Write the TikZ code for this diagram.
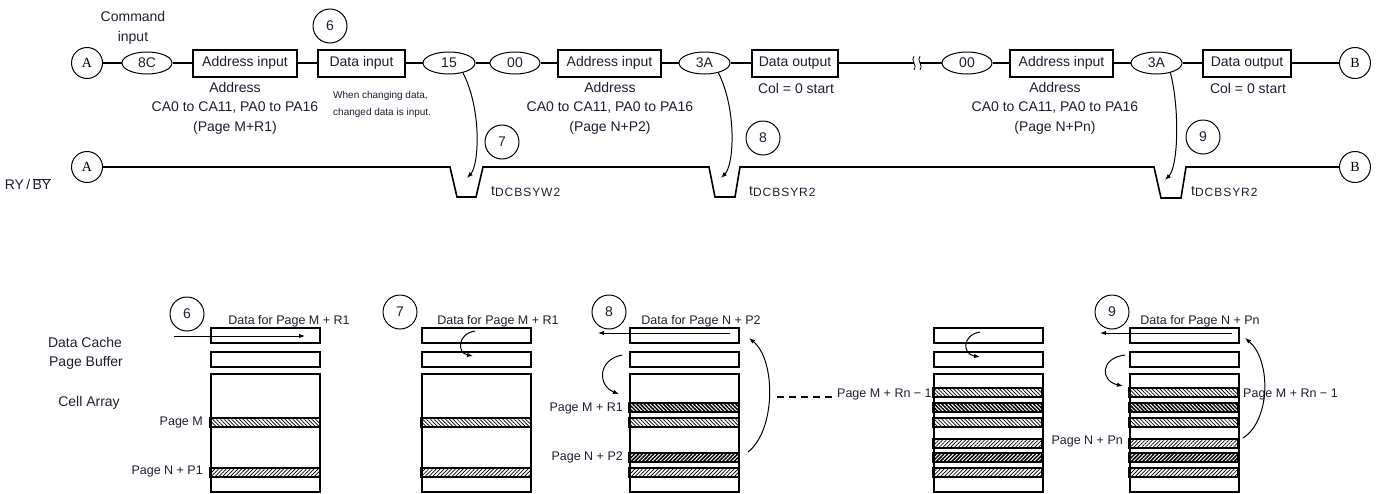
\documentclass[tikz,border=0pt]{standalone}
\usepackage{fontspec}
\setmainfont{Liberation Sans}
\newfontfamily\portfont{Liberation Serif}
\usetikzlibrary{arrows.meta,patterns.meta,shapes.geometric}
\definecolor{ink}{RGB}{30,30,50}
\newcommand{\toplbl}{\fontsize{14}{19.5}\selectfont}
\newcommand{\botlbl}{\fontsize{12.5}{14}\selectfont}
\newcommand{\notelbl}{\fontsize{10}{17}\selectfont}
\newcommand{\tsub}[1]{t\raisebox{-1.5pt}{\fontsize{12}{13}\selectfont\addfontfeature{LetterSpace=8}#1}}

\begin{document}
\begin{tikzpicture}[x=1pt, y=-1pt,
  cmd/.style={ellipse, draw, line width=1pt, minimum width=50pt,
              minimum height=22pt, inner sep=0pt, font=\toplbl, text=ink},
  blk/.style={rectangle, draw, line width=2pt, minimum height=27pt,
              inner sep=0pt, font=\toplbl, text=ink},
  tag/.style={circle, draw, line width=1pt, minimum size=34pt,
              inner sep=0pt, font=\toplbl, text=ink},
  port/.style={circle, draw, line width=1pt, minimum size=31pt,
               inner sep=0pt, font=\portfont\toplbl},
  txt/.style={font=\toplbl, text=ink, align=center, inner sep=0pt},
  pg/.style={font=\botlbl, text=ink, inner sep=0pt},
  wire/.style={line width=1.6pt},
  lnk/.style={line width=1pt, -{Latex[length=6pt,width=4.5pt]}},
  reg/.style={draw, line width=2pt, inner sep=0pt, anchor=north west},
  band/.style={draw, line width=1.4pt},
  bsl/.style={pattern={Lines[angle=-45,distance=2.7pt,line width=0.7pt]}},
  bsd/.style={pattern={Lines[angle=-45,distance=2.7pt,line width=1.5pt]}},
  fsl/.style={pattern={Lines[angle=45,distance=2.7pt,line width=0.7pt]}},
  fsd/.style={pattern={Lines[angle=45,distance=2.7pt,line width=1.5pt]}}
]
  \useasboundingbox (0,0) rectangle (1384,493);

  % Command sequence
  \node[port] (wa) at (87,63) {A};
  \node[cmd] (c8C) at (147,63) {8C};
  \node[blk, minimum width=104pt] (addr1) at (245,63) {Address input};
  \node[blk, minimum width=87pt] (din) at (361.5,63) {Data input};
  \node[cmd, minimum width=52pt] (c15) at (449,63) {15};
  \node[cmd] (c00a) at (515,63) {00};
  \node[blk, minimum width=103pt] (addr2) at (609.5,63) {Address input};
  \node[cmd, minimum width=51pt] (c3Aa) at (704.5,63) {3A};
  \node[blk, minimum width=86pt] (dout1) at (795,63) {Data output};
  \node[cmd] (c00b) at (967,63) {00};
  \node[blk, minimum width=103pt] (addr3) at (1061.5,63) {Address input};
  \node[cmd, minimum width=51pt] (c3Ab) at (1156.5,63) {3A};
  \node[blk, minimum width=88pt] (dout2) at (1247,63) {Data output};
  \node[port] (wb) at (1355,63) {B};
  \coordinate (brkL) at (914,63);
  \coordinate (brkR) at (920,63);
  \draw[wire] (wa) -- (c8C) -- (addr1) -- (din) -- (c15) -- (c00a) -- (addr2)
    -- (c3Aa) -- (dout1) -- (brkL);
  \draw[wire] (brkR) -- (c00b) -- (addr3) -- (c3Ab) -- (dout2) -- (wb);
  % break mark
  \draw[line width=0.8pt] (914,56) .. controls (910,60) and (918,66) .. (914,70);
  \draw[line width=0.8pt] (920,56) .. controls (916,60) and (924,66) .. (920,70);

  \node[txt] (cmdlbl) at (133,28) {Command\\input};
  \node[tag] (t6) at (330,26) {6};
  \node[txt] (ad1) at (235,108) {Address\\CA0 to CA11, PA0 to PA16\\(Page M+R1)};
  \node[font=\notelbl, text=ink, align=left, inner sep=0pt, anchor=west] (note)
    at (333,104) {When changing data,\\changed data is input.};
  \node[txt] (ad2) at (610,108) {Address\\CA0 to CA11, PA0 to PA16\\(Page N+P2)};
  \node[txt] (col1) at (796,88) {Col = 0 start};
  \node[txt] (ad3) at (1055,108) {Address\\CA0 to CA11, PA0 to PA16\\(Page N+Pn)};
  \node[txt] (col2) at (1248,88) {Col = 0 start};

  % RY/BY waveform
  \node[txt] (rybylbl) at (28,184) {RY\,/\,$\overline{\hbox{BY}}$};
  \node[port] (ra) at (87,167) {A};
  \node[port] (rb) at (1355,167) {B};
  \draw[wire] (ra) -- (450,167) -- (457,197) -- (476,197) -- (483,167)
    -- (709,167) -- (715,197) -- (735,197) -- (740,167)
    -- (1154,167) -- (1161,198) -- (1181,198) -- (1186,167) -- (rb);
  \node[tag] (t7) at (502,142) {7};
  \node[tag] (t8) at (763,138) {8};
  \node[tag] (t9) at (1203,137) {9};
  \node[txt, anchor=base west] (tw2) at (491,195) {\tsub{DCBSYW2}};
  \node[txt, anchor=base west] (tr2a) at (749,195) {\tsub{DCBSYR2}};
  \node[txt, anchor=base west] (tr2b) at (1191,195) {\tsub{DCBSYR2}};
  \coordinate (dip1) at (467,178);
  \coordinate (dip2) at (721,178);
  \coordinate (dip3) at (1165,180);
  \draw[lnk] (c15.-35) .. controls (482,110) and (479,165) .. (dip1);
  \draw[lnk] (c3Aa.-35) .. controls (737,110) and (734,165) .. (dip2);
  \draw[lnk] (c3Ab.-35) .. controls (1180,110) and (1178,167) .. (dip3);

  % Buffers and cell array
  \node[txt] (dclbl) at (85,342) {Data Cache};
  \node[txt] (pblbl) at (86,363) {Page Buffer};
  \node[txt] (calbl) at (89,403) {Cell Array};
  \foreach \nm/\xl in {c1/210, c2/421, c3/629, c4/933, c5/1129} {
    \node[reg, minimum width=109pt, minimum height=15pt] (\nm dc) at (\xl,327) {};
    \node[reg, minimum width=109pt, minimum height=15pt] (\nm pb) at (\xl,351) {};
    \node[reg, minimum width=109pt, minimum height=118pt] (\nm ca) at (\xl,373) {};
  }
  \foreach \xl in {210,421}
    \foreach \y/\pat in {418/bsl, 468/fsl}
      \draw[band,\pat] (\xl,\y) rectangle ++(110,9);
  \foreach \y/\pat in {403/bsd, 418/bsl, 453/fsd, 468/fsl}
    \draw[band,\pat] (629,\y) rectangle ++(110,9);
  \foreach \xl in {933,1129}
    \foreach \y/\pat in {388/bsl, 403/bsd, 418/bsl, 439/fsl, 453/fsd, 468/fsl}
      \draw[band,\pat] (\xl,\y) rectangle ++(109,9);

  % Step 6
  \node[tag] (b6) at (187,314) {6};
  \node[pg] (dat6) at (289,321) {Data for Page M + R1};
  \node[pg, anchor=east] (pgm) at (203,422) {Page M};
  \node[pg, anchor=east] (pgn1) at (203,471) {Page N + P1};
  \coordinate (in6) at (174,336);
  \coordinate (to6) at (305,336);
  \draw[lnk] (in6) -- (to6);

  % Step 7
  \node[tag] (b7) at (400,312) {7};
  \node[pg] (dat7) at (498,321) {Data for Page M + R1};
  \draw[lnk] (475,331) .. controls (457,334) and (457,353) .. (473,356);

  % Step 8
  \node[tag] (b8) at (609,312) {8};
  \node[pg] (dat8) at (701,321) {Data for Page N + P2};
  \node[pg, anchor=east] (pgr1) at (623,408) {Page M + R1};
  \node[pg, anchor=east] (pgp2) at (623,457) {Page N + P2};
  \coordinate (out8) at (598,333);
  \draw[lnk] (730,333) -- (out8);
  \draw[lnk] (622,355) .. controls (597,360) and (598,386) .. (619,394);
  \draw[lnk] (748,452) .. controls (776,430) and (776,360) .. (749,338);

  % Gap
  \draw[line width=1.5pt, dash pattern=on 7pt off 5pt] (777,397) -- (837,397);
  \node[pg, anchor=west] (pgrn) at (837,394) {Page M + Rn − 1};
  \draw[lnk] (980,332) .. controls (962,335) and (962,354) .. (980,357);

  % Step 9
  \node[tag] (b9) at (1112,312) {9};
  \node[pg] (dat9) at (1200,321) {Data for Page N + Pn};
  \node[pg, anchor=east] (pgpn) at (1123,441) {Page N + Pn};
  \node[pg, anchor=west] (pgrn2) at (1243,394) {Page M + Rn − 1};
  \coordinate (out9) at (1100,333);
  \draw[lnk] (1232,333) -- (out9);
  \draw[lnk] (1125,355) .. controls (1100,358) and (1100,381) .. (1123,386);
  \draw[lnk] (1243,438) .. controls (1271,420) and (1271,360) .. (1245,338);
\end{tikzpicture}
\end{document}
